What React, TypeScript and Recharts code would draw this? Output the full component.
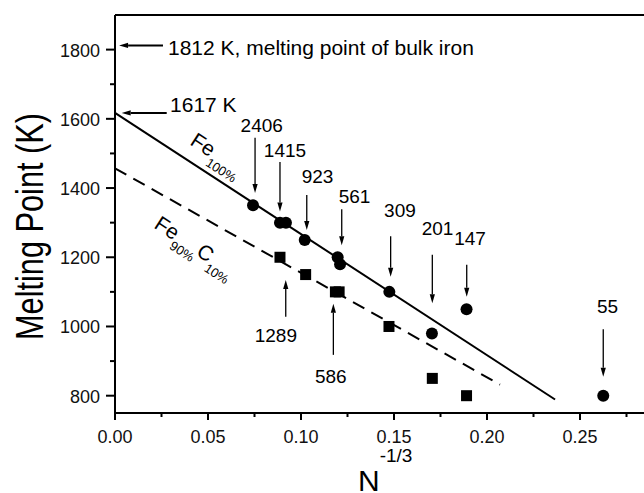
import React from "react";
import {
  ScatterChart,
  Scatter,
  XAxis,
  YAxis,
  ReferenceLine,
  ReferenceDot,
  Label
} from "recharts";

const FONT = "'Liberation Sans', Arial, Helvetica, sans-serif";

// pure Fe clusters (circles)
const FE_PURE = [
  { x: 0.0742, y: 1350 },
  { x: 0.0887, y: 1300 },
  { x: 0.0919, y: 1300 },
  { x: 0.1020, y: 1250 },
  { x: 0.1197, y: 1200 },
  { x: 0.1210, y: 1180 },
  { x: 0.1475, y: 1100 },
  { x: 0.1704, y: 980 },
  { x: 0.1890, y: 1050 },
  { x: 0.2625, y: 800 }
];

// Fe90% C10% clusters (squares)
const FE_C = [
  { x: 0.0887, y: 1200 },
  { x: 0.1025, y: 1150 },
  { x: 0.1185, y: 1100 },
  { x: 0.1205, y: 1100 },
  { x: 0.1473, y: 1000 },
  { x: 0.1706, y: 850 },
  { x: 0.1890, y: 800 }
];

// fitted lines (end points)
const FIT_PURE = [{ x: 0, y: 1617 }, { x: 0.2366, y: 789 }];
const FIT_C = [{ x: 0, y: 1457 }, { x: 0.207, y: 832 }];

// cluster sizes written above / below the points
const SIZE_LABELS = [
  { text: "2406", x: 0.0789, y: 1562 },
  { text: "1415", x: 0.0914, y: 1490 },
  { text: "923", x: 0.1089, y: 1415 },
  { text: "561", x: 0.1288, y: 1357 },
  { text: "309", x: 0.1532, y: 1316 },
  { text: "201", x: 0.1734, y: 1264 },
  { text: "147", x: 0.1909, y: 1235 },
  { text: "55", x: 0.2648, y: 1039 },
  { text: "1289", x: 0.0865, y: 955 },
  { text: "586", x: 0.116, y: 837 }
];

// arrows: from (x1,y1) to tip (x2,y2)
const ARROWS = [
  { x1: 0.0753, y1: 1545, x2: 0.0753, y2: 1386, w: 1.3 },
  { x1: 0.0887, y1: 1475, x2: 0.0887, y2: 1332, w: 1.3 },
  { x1: 0.1031, y1: 1380, x2: 0.1031, y2: 1279, w: 1.3 },
  { x1: 0.1219, y1: 1339, x2: 0.1219, y2: 1235, w: 1.3 },
  { x1: 0.1482, y1: 1261, x2: 0.1482, y2: 1144, w: 1.3 },
  { x1: 0.1706, y1: 1207, x2: 0.1706, y2: 1067, w: 1.3 },
  { x1: 0.1891, y1: 1178, x2: 0.1891, y2: 1086, w: 1.3 },
  { x1: 0.2625, y1: 992, x2: 0.2625, y2: 855, w: 1.3 },
  { x1: 0.0918, y1: 1028, x2: 0.0918, y2: 1134, w: 1.3 },
  { x1: 0.1174, y1: 918, x2: 0.1174, y2: 1066, w: 1.3 },
  { x1: 0.0258, y1: 1812, x2: 0.0022, y2: 1812, w: 2 },
  { x1: 0.0278, y1: 1617, x2: 0.0036, y2: 1617, w: 2 }
];

const NOTES = [
  { text: "1812 K, melting point of bulk iron", x: 0.0285, y: 1784 },
  { text: "1617 K", x: 0.0296, y: 1620 }
];

const X_TICKS = [0, 0.025, 0.05, 0.075, 0.1, 0.125, 0.15, 0.175, 0.2, 0.225, 0.25, 0.275];
const Y_TICKS = [800, 900, 1000, 1100, 1200, 1300, 1400, 1500, 1600, 1700, 1800];

const XTick = (p: any) => {
  const v = p.payload.value;
  const major = Math.abs(v / 0.05 - Math.round(v / 0.05)) < 1e-6;
  return (
    <g>
      <line x1={p.x} y1={p.y} x2={p.x} y2={p.y + (major ? 7 : 4)} stroke="#000" strokeWidth={2} />
      {major && (
        <text x={p.x} y={p.y + 30} textAnchor="middle" fontSize={18} fontFamily={FONT} fill="#111">
          {v.toFixed(2)}
        </text>
      )}
    </g>
  );
};

const YTick = (p: any) => {
  const v = p.payload.value;
  const major = v % 200 === 0;
  return (
    <g>
      <line x1={p.x} y1={p.y} x2={p.x - (major ? 9 : 5)} y2={p.y} stroke="#000" strokeWidth={2} />
      {major && (
        <text x={p.x - 15} y={p.y + 7} textAnchor="end" fontSize={18} fontFamily={FONT} fill="#111">
          {v}
        </text>
      )}
    </g>
  );
};

const Arrow = (p: any) => {
  const { x1, y1, x2, y2 } = p;
  const dx = x2 - x1;
  const dy = y2 - y1;
  const len = Math.hypot(dx, dy) || 1;
  const ux = dx / len;
  const uy = dy / len;
  const hl = 9;
  const hw = 2.6;
  const bx = x2 - ux * hl;
  const by = y2 - uy * hl;
  return (
    <g>
      <line x1={x1} y1={y1} x2={bx} y2={by} stroke="#000" strokeWidth={p.w} />
      <polygon
        points={`${x2},${y2} ${bx - uy * hw},${by + ux * hw} ${bx + uy * hw},${by - ux * hw}`}
        fill="#000"
      />
    </g>
  );
};

const Dot = (p: any) => <circle cx={p.cx} cy={p.cy} r={6} fill="#000" />;
const Square = (p: any) => <rect x={p.cx - 5.5} y={p.cy - 5.5} width={11} height={11} fill="#000" />;

export default function App() {
  return (
    <div
      style={{
        position: "absolute",
        left: 0,
        top: 0,
        width: 644,
        height: 493,
        overflow: "hidden",
        background: "#fff"
      }}
    >
      <ScatterChart width={678} height={493} margin={{ top: 15, right: 5, bottom: 0, left: 0 }}>
        <XAxis
          type="number"
          dataKey="x"
          domain={[0, 0.3]}
          ticks={X_TICKS}
          interval={0}
          tickSize={0}
          tickMargin={0}
          tick={<XTick />}
          height={80}
          stroke="#000"
          strokeWidth={2}
          allowDataOverflow
        >
          <Label
            content={(lp: any) => {
              const vb = lp.viewBox;
              return (
                <text
                  x={vb.x + 243}
                  y={vb.y + 78}
                  textAnchor="start"
                  fontFamily={FONT}
                  fill="#000"
                >
                  <tspan fontSize={30}>N</tspan>
                  <tspan fontSize={19} dx={0} dy={-29}>-1/3</tspan>
                </text>
              );
            }}
          />
        </XAxis>
        <YAxis
          type="number"
          dataKey="y"
          domain={[750, 1900]}
          ticks={Y_TICKS}
          interval={0}
          tickSize={0}
          tickMargin={0}
          tick={<YTick />}
          width={115}
          stroke="#000"
          strokeWidth={2}
          allowDataOverflow
        >
          <Label
            content={(lp: any) => {
              const vb = lp.viewBox;
              const cx = vb.x + 43;
              const cy = vb.y + 211.5;
              return (
                <text
                  transform={`translate(${cx},${cy}) rotate(-90)`}
                  textAnchor="middle"
                  fontSize={38}
                  fontFamily={FONT}
                  textLength={227}
                  lengthAdjust="spacingAndGlyphs"
                  fill="#000"
                >
                  Melting Point (K)
                </text>
              );
            }}
          />
        </YAxis>

        <ReferenceLine y={1900} stroke="#000" strokeWidth={2} />

        <ReferenceLine
          segment={FIT_PURE}
          stroke="#000"
          strokeWidth={2}
          ifOverflow="visible"
        />
        <ReferenceLine
          segment={FIT_C}
          stroke="#000"
          strokeWidth={2}
          strokeDasharray="13 8"
          ifOverflow="visible"
        />

        <Scatter data={FE_PURE} shape={Dot} isAnimationActive={false} />
        <Scatter data={FE_C} shape={Square} isAnimationActive={false} />

        {ARROWS.map((a, i) => (
          <ReferenceLine
            key={"a" + i}
            segment={[{ x: a.x1, y: a.y1 }, { x: a.x2, y: a.y2 }]}
            ifOverflow="visible"
            shape={(sp: any) => <Arrow {...sp} w={a.w} />}
          />
        ))}

        {SIZE_LABELS.map((l) => (
          <ReferenceDot
            key={l.text}
            x={l.x}
            y={l.y}
            r={0}
            ifOverflow="visible"
            shape={(sp: any) => (
              <text x={sp.cx} y={sp.cy} textAnchor="middle" fontSize={19} fontFamily={FONT} fill="#000">
                {l.text}
              </text>
            )}
          />
        ))}

        {NOTES.map((n) => (
          <ReferenceDot
            key={n.text}
            x={n.x}
            y={n.y}
            r={0}
            ifOverflow="visible"
            shape={(sp: any) => (
              <text x={sp.cx} y={sp.cy} textAnchor="start" fontSize={21} fontFamily={FONT} fill="#000">
                {n.text}
              </text>
            )}
          />
        ))}

        <ReferenceDot
          x={0.0398}
          y={1527}
          r={0}
          ifOverflow="visible"
          shape={(sp: any) => (
            <text
              transform={`translate(${sp.cx},${sp.cy}) rotate(33)`}
              textAnchor="start"
              fontFamily={FONT}
              fill="#000"
            >
              <tspan fontSize={21}>Fe</tspan>
              <tspan fontSize={13} dy={9}>100%</tspan>
            </text>
          )}
        />
        <ReferenceDot
          x={0.0204}
          y={1287}
          r={0}
          ifOverflow="visible"
          shape={(sp: any) => (
            <text
              transform={`translate(${sp.cx},${sp.cy}) rotate(33)`}
              textAnchor="start"
              fontFamily={FONT}
              fill="#000"
            >
              <tspan fontSize={21}>Fe</tspan>
              <tspan fontSize={13} dy={9}>90%</tspan>
              <tspan fontSize={21} dy={-9}>C</tspan>
              <tspan fontSize={13} dy={9}>10%</tspan>
            </text>
          )}
        />
      </ScatterChart>
    </div>
  );
}
